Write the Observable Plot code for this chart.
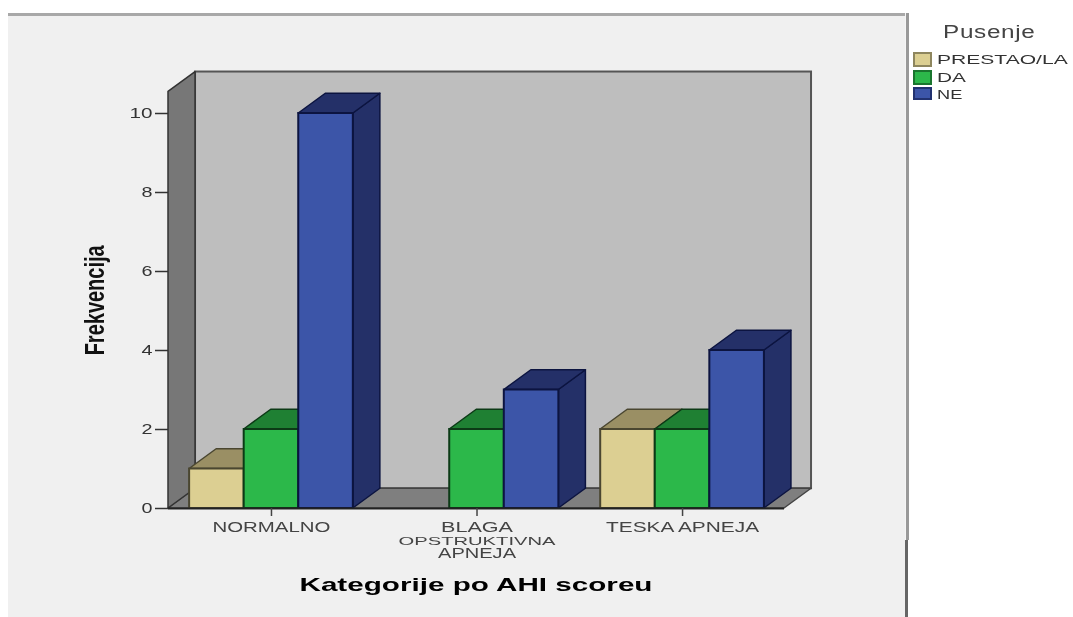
<!DOCTYPE html>
<html>
<head>
<meta charset="utf-8">
<script src="https://cdn.jsdelivr.net/npm/d3@7"></script>
<script src="https://cdn.jsdelivr.net/npm/@observablehq/plot@0.6"></script>
<style>
html,body{margin:0;padding:0;background:#fff;width:1073px;height:617px;overflow:hidden;font-family:"Liberation Sans",Arial,sans-serif}
#panel{position:absolute;left:8px;top:13px;width:897px;height:604px;background:#f0f0f0;border-top:3px solid #a8a8a8;box-sizing:content-box}
#edgeUpper{position:absolute;left:906px;top:13px;width:3px;height:527px;background:#999;box-shadow:-1px 0 0 #f5f5f5}
#edgeLower{position:absolute;left:905px;top:540px;width:3px;height:77px;background:#666}
#chart{position:absolute;left:0;top:0;filter:blur(0.5px)}
#chart svg{background:transparent;display:block}
#legend{filter:blur(0.6px)}
.lg{position:absolute;color:#444;white-space:nowrap;transform-origin:left center}
.sw{position:absolute;left:913px;width:19px;box-sizing:border-box;border:2px solid #777}
</style>
</head>
<body>
<div id="panel"></div>
<div id="edgeUpper"></div>
<div id="edgeLower"></div>
<div id="chart"></div>
<div id="legend"></div>
<script>
const categories = ["NORMALNO", "BLAGA\nOPSTRUKTIVNA\nAPNEJA", "TESKA APNEJA"];
const seriesNames = ["PRESTAO/LA", "DA", "NE"];
const prestao = [1, 0, 2];
const da = [2, 2, 2];
const ne = [10, 3, 4];
const yTicks = [0, 2, 4, 6, 8, 10];
const frontColors = ["#dccf92", "#2cb84a", "#3c55a8"];
const topColors = ["#9a8f64", "#1f8033", "#243068"];
const sideColors = ["#7d7450", "#186a2a", "#243068"];
const edgeColors = ["#4a4630", "#0c3a16", "#0c1440"];
const values = [prestao, da, ne];

// category units: one group per unit; depth of the 3-D box in data units
const barW = 0.2655, depthX = 0.1315, depthY = 0.5;
const left = -0.501, right = 2.496, wallTop = 11.05;

const bars = values.flatMap((vals, s) => vals.map((v, i) => ({
  s, i, v,
  x1: i + (s - 1.5) * barW,
  x2: i + (s - 0.5) * barW
}))).filter(d => d.v > 0).sort((a, b) => a.i - b.i || a.s - b.s);

const barMarks = bars.flatMap(b => [
  Plot.areaY([{x: b.x2, y1: 0, y2: b.v}, {x: b.x2 + depthX, y1: depthY, y2: b.v + depthY}],
    {x: "x", y1: "y1", y2: "y2", fill: sideColors[b.s], stroke: edgeColors[b.s], strokeWidth: 1.5}),
  Plot.areaX([{y: b.v, x1: b.x1, x2: b.x2}, {y: b.v + depthY, x1: b.x1 + depthX, x2: b.x2 + depthX}],
    {y: "y", x1: "x1", x2: "x2", fill: topColors[b.s], stroke: edgeColors[b.s], strokeWidth: 1.5}),
  Plot.rect([b], {x1: "x1", x2: "x2", y1: 0, y2: "v", fill: frontColors[b.s], stroke: edgeColors[b.s], strokeWidth: 2})
]);

const plot = Plot.plot({
  width: 1073, height: 617,
  marginLeft: 168, marginRight: 289, marginTop: 113, marginBottom: 109,
  x: {domain: [left, right]},
  y: {domain: [0, 10]},
  style: {background: "transparent", fontFamily: "Liberation Sans, Arial, sans-serif"},
  marks: [
    // back wall
    Plot.rect([0], {x1: left + depthX, x2: right + depthX, y1: depthY, y2: wallTop, fill: "#bebebe", stroke: "#555", strokeWidth: 2}),
    // floor
    Plot.areaX([{y: 0, x1: left, x2: right}, {y: depthY, x1: left + depthX, x2: right + depthX}],
      {y: "y", x1: "x1", x2: "x2", fill: "#7f7f7f", stroke: "#444", strokeWidth: 1.5}),
    // left wall
    Plot.areaY([{x: left, y1: 0, y2: wallTop - depthY}, {x: left + depthX, y1: depthY, y2: wallTop}],
      {x: "x", y1: "y1", y2: "y2", fill: "#777", stroke: "#333", strokeWidth: 1.5}),
    ...barMarks,
    Plot.ruleY([0], {x1: left, x2: right, stroke: "#222", strokeWidth: 2}),
    Plot.axisY({ticks: yTicks, label: null, tickSize: 13, tickPadding: 3, fontSize: 15, fill: "#333", stroke: "#333", strokeWidth: 1.5}),
    Plot.axisX({ticks: [0, 1, 2], tickFormat: i => categories[i], label: null, tickSize: 8, tickPadding: 7,
      fontSize: 15, lineHeight: 0.83, fill: "#444", stroke: "#444", strokeWidth: 1.5, textOverflow: null}),
    Plot.text(["Kategorije po AHI scoreu"], {x: 0.995, y: 0, dy: 76, text: d => d, fontSize: 19, fontWeight: "bold", fill: "#000"}),
    Plot.text(["Frekvencija"], {x: left, y: 5.27, dx: -73, text: d => d, rotate: -90, fontSize: 27, fontWeight: "bold", fill: "#111", fontFamily: "Liberation Sans Narrow, Liberation Sans, sans-serif"})
  ]
});
document.getElementById("chart").append(plot);

// The reference's text is stretched horizontally: fit rendered text to its measured widths
const textWidths = {"NORMALNO": 118, "BLAGA": 72, "OPSTRUKTIVNA": 157, "APNEJA": 78, "TESKA APNEJA": 153,
  "Kategorije po AHI scoreu": 353, "Frekvencija": 110, "10": 23, "0": 11, "2": 11, "4": 11, "6": 11, "8": 11};
plot.querySelectorAll("text").forEach(t => {
  const spans = t.querySelectorAll("tspan");
  (spans.length ? [...spans] : [t]).forEach(el => {
    const w = textWidths[el.textContent.trim()];
    if (w) { el.setAttribute("textLength", w); el.setAttribute("lengthAdjust", "spacingAndGlyphs"); }
    if (el.textContent === "OPSTRUKTIVNA") { el.style.fontSize = "11px"; el.setAttribute("dy", "13px"); }
    if (el.textContent === "APNEJA") { el.setAttribute("dy", "13px"); }
  });
});

// legend
const lg = document.getElementById("legend");
const mk = (cls, css, txt) => { const d = document.createElement("div"); d.className = cls; d.style.cssText = css; if (txt) d.textContent = txt; lg.append(d); };
const lgStretch = [1.62, 1.6, 1.4];
mk("lg", "left:943px;top:22px;font-size:18px;line-height:20px;letter-spacing:0.5px;transform:scaleX(1.35)", "Pusenje");
seriesNames.forEach((n, i) => {
  const top = [52, 70, 87][i];
  mk("sw", `top:${top}px;height:${i === 2 ? 13 : 15}px;background:${frontColors[i]};border-color:${edgeColors[i]}88`);
  mk("lg", `left:937px;top:${top}px;font-size:13px;line-height:15px;color:#333;transform:scaleX(${lgStretch[i]})`, n);
});
</script>
</body>
</html>
